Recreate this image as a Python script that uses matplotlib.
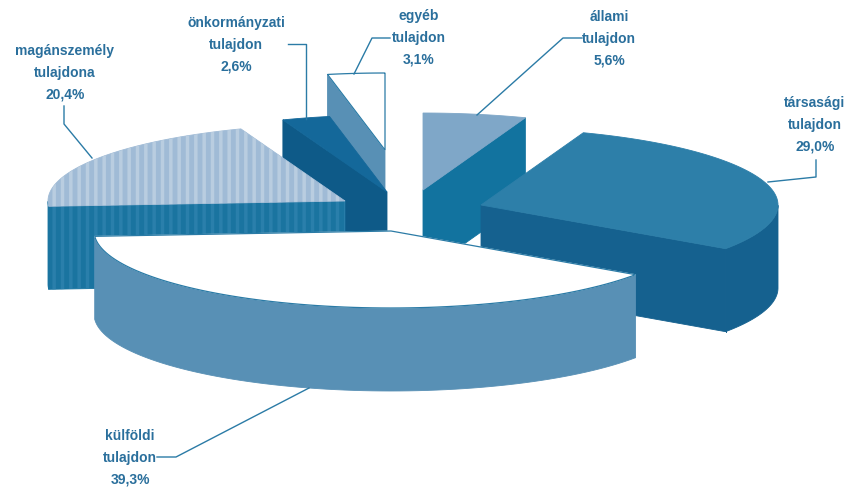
import numpy as np
import matplotlib
matplotlib.use('Agg')
import matplotlib.pyplot as plt
from matplotlib.patches import Polygon

# shares in clockwise order, starting from 12 o'clock
names = ['állami\ntulajdon', 'társasági\ntulajdon', 'külföldi\ntulajdon',
         'magánszemély\ntulajdona', 'önkormányzati\ntulajdon', 'egyéb\ntulajdon']
shares = [5.6, 29.0, 39.3, 20.4, 2.6, 3.1]

# exploded centre of each slice, pixels
centres = [(423, 190), (481, 205), (391, 231), (345, 201), (387, 192), (385, 150)]
top_cols = ['#7fa7c8', '#2d7fa9', '#ffffff', '#a0bbd6', '#14689a', '#ffffff']
side_cols = ['#12739f', '#15618f', '#5890b5', '#1a74a0', '#0e5a88', '#5890b5']
draw_order = [5, 4, 0, 3, 1, 2]

label_pos = [(609, 39), (815, 125), (130, 458), (65, 73), (236, 45), (419, 38)]
leaders = [[(582, 38), (563, 38), (477, 115)],
           [(816, 160), (816, 177), (768, 182)],
           [(157, 457), (176, 457), (309, 388)],
           [(64, 106), (64, 124), (92, 158)],
           [(288, 44), (306, 44), (306, 119)],
           [(390, 38), (372, 38), (354, 74)]]

RX, RY, DEPTH = 297, 77, 83
TXT = '#2a6f9c'
LINE = '#2b7ba6'

plt.rcParams['font.family'] = ['Liberation Sans', 'DejaVu Sans']
plt.rcParams['hatch.linewidth'] = 2.5

fig = plt.figure(figsize=(8.48, 4.87), dpi=100)
ax = fig.add_axes([0, 0, 1, 1])
ax.set_xlim(0, 848)
ax.set_ylim(487, 0)
ax.axis('off')


def ell(c, t):
    return np.c_[c[0] + RX * np.cos(t), c[1] - RY * np.sin(t)]


def down(pts):
    return pts + np.array([0, DEPTH])


def face(pts, col, stripes=None, z=1):
    ax.add_patch(Polygon(pts, closed=True, fc=col, ec=col, lw=0.6, zorder=z))
    if stripes:
        ax.add_patch(Polygon(pts, closed=True, fc='none', ec=stripes, lw=0,
                             hatch='||', zorder=z))


# angles go clockwise from the top
edges = 90 - np.cumsum([0] + shares) * 3.6

for z, i in enumerate(draw_order):
    c = np.array(centres[i], float)
    t2, t1 = np.radians(edges[i]), np.radians(edges[i + 1])
    arc = ell(c, np.linspace(t1, t2, 80))
    stripes_side = '#2a7fab' if names[i].startswith('mag') else None
    stripes_top = '#b9cde0' if names[i].startswith('mag') else None
    zz = z * 10 + 1

    # radial walls that look towards the viewer
    if np.sin(t1 - np.pi / 2) < 0:
        p = np.array([c, arc[0]])
        face(np.r_[p, down(p)[::-1]], side_cols[i], stripes_side, zz)
    if np.sin(t2 + np.pi / 2) < 0:
        p = np.array([c, arc[-1]])
        face(np.r_[p, down(p)[::-1]], side_cols[i], stripes_side, zz)

    # outer wall, only the front half of the ellipse
    front = arc[np.sin(np.linspace(t1, t2, 80)) <= 0]
    if len(front) > 1:
        face(np.r_[front, down(front)[::-1]], side_cols[i], stripes_side, zz)

    top = np.r_[[c], arc]
    face(top, top_cols[i], stripes_top, zz + 1)
    if top_cols[i] == '#ffffff':
        ax.add_patch(Polygon(top, closed=True, fc='none', ec=LINE, lw=0.9, zorder=zz + 2))

# seam on the társasági corner
seam = ell(np.array(centres[1], float), np.radians([edges[2]]))
ax.plot([seam[0, 0]] * 2, [seam[0, 1], seam[0, 1] + DEPTH], color='#0f5a88', lw=0.7, zorder=40)

for i in range(len(shares)):
    pct = f'{shares[i]:.1f}'.replace('.', ',') + '%'
    ax.text(label_pos[i][0], label_pos[i][1], names[i] + '\n' + pct, color=TXT,
            fontsize=10, fontweight='bold', ha='center', va='center',
            linespacing=1.72, zorder=100)
    xs, ys = zip(*leaders[i])
    ax.plot(xs, ys, color=LINE, lw=1.0, zorder=90)

fig.savefig('out.png', dpi=100, facecolor='white')
